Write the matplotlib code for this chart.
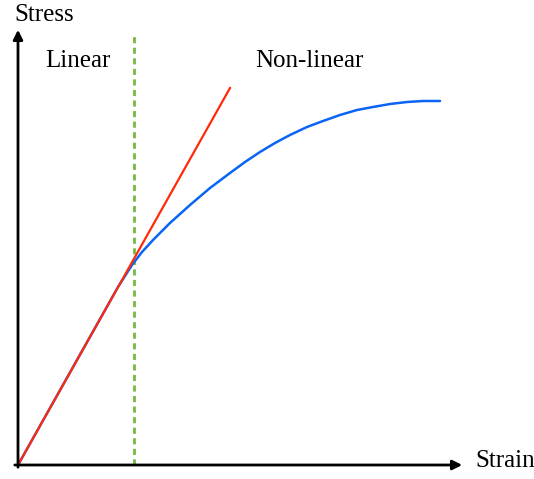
#Stress-strain sketch: linear region vs non-linear region
import matplotlib.pyplot as plt
import numpy as np

#Curve data (strain, stress in arbitrary units)
strain = [0, 100, 114, 124, 136, 152, 172, 192, 212, 227, 242, 257, 272, 289, 305, 322, 339, 355, 372, 389, 405, 422]
stress = [0, 178, 200, 213, 226, 242, 260, 277, 292, 303, 313, 322, 330, 338, 344, 350, 355, 358, 361, 363, 364, 364]
#Linear (Hooke) line
lin_strain = [0, 212]
lin_stress = [0, 377]
#Limit of the linear region
limit_strain = 116
limit_top = 432

plt.rcParams['font.family'] = ['Liberation Serif', 'DejaVu Serif']

fig = plt.figure(figsize=(5.34, 4.79), dpi=100)
ax = fig.add_axes([0, 0, 1, 1])
ax.set_xlim(-18, 516)
ax.set_ylim(-14, 465)
ax.axis('off')

#Axes with arrows
ax.annotate('', xy=(447, 0), xytext=(-6, 0),
            arrowprops=dict(arrowstyle='-|>', color='black', lw=2, mutation_scale=14))
ax.annotate('', xy=(0, 438), xytext=(0, -5),
            arrowprops=dict(arrowstyle='-|>', color='black', lw=2, mutation_scale=14))

ax.plot([limit_strain, limit_strain], [0, limit_top], color='#77b843', lw=2, linestyle=(0, (2.2, 1.6)))
ax.plot(strain, stress, color='#0a64f5', lw=1.8, solid_capstyle='round', solid_joinstyle='round')
ax.plot(lin_strain, lin_stress, color='#ff2a0a', lw=1.6)

ax.text(-4, 444, 'Stress', fontsize=18, ha='left', va='baseline')
ax.text(457, -2, 'Strain', fontsize=18, ha='left', va='baseline')
ax.text(27, 398, 'Linear', fontsize=18, ha='left', va='baseline')
ax.text(237, 398, 'Non-linear', fontsize=18, ha='left', va='baseline')

plt.savefig('out.png', dpi=100)
